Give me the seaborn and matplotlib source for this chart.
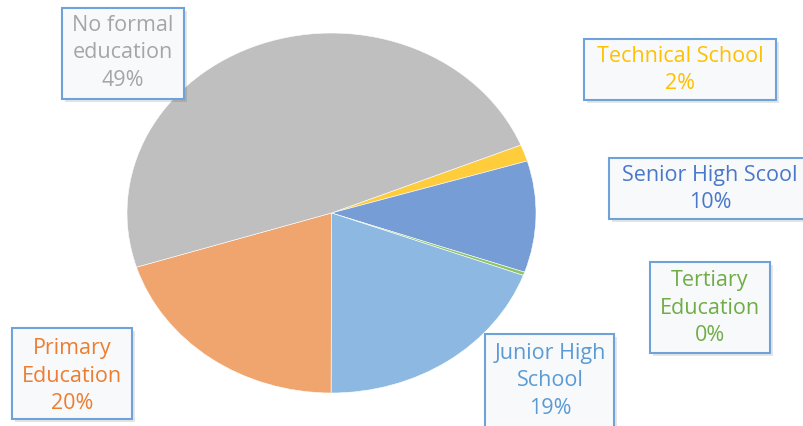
import matplotlib
matplotlib.use("Agg")
import matplotlib.pyplot as plt
from matplotlib.patches import Rectangle
import seaborn as sns

sns.set_theme(style="white")
plt.rcParams['font.family'] = ['Open Sans', 'DejaVu Sans']

# Data (clockwise order starting at Technical School)
categories = ["Technical School", "Senior High Scool", "Tertiary Education",
              "Junior High School", "Primary Education", "No formal education"]
values = [1.5, 10.0, 0.3, 19.4, 20.1, 48.7]
pct_labels = ["2%", "10%", "0%", "19%", "20%", "49%"]
label_text = ["Technical School", "Senior High Scool", "Tertiary\nEducation",
              "Junior High\nSchool", "Primary\nEducation", "No formal\neducation"]

slice_colors = ["#ffcd3c", "#779dd6", "#8cc46a", "#8cb8e2", "#f0a46e", "#bfbfbf"]
text_colors = ["#ffc000", "#4a78c8", "#70ad47", "#5b9bd5", "#ed7d31", "#a6a6a6"]

W, H = 804, 426
fig = plt.figure(figsize=(W / 100, H / 100), dpi=100)
fig.patch.set_facecolor("white")

# pie ellipse box in pixels
px0, px1, py0, py1 = 127, 536, 33, 393
ax = fig.add_axes([px0 / W, (H - py1) / H, (px1 - px0) / W, (py1 - py0) / H])
ax.pie(values, colors=slice_colors, startangle=22.2, counterclock=False,
       wedgeprops=dict(linewidth=0.4, edgecolor="white"))
ax.set_aspect("auto")
ax.set_xlim(-1, 1)
ax.set_ylim(-1, 1)
ax.axis("off")

# label boxes (pixel rectangles) and text centers
boxes = [(584, 39, 776, 100), (609, 158, 830, 219), (650, 262, 770, 353),
         (485, 334, 614, 450), (12, 328, 132, 419), (62, 8, 184, 99)]
centers = [(680, 70), (710, 189), (710, 308), (550, 381), (72, 376), (123, 53)]

for i in range(len(categories)):
    x0, y0, x1, y1 = boxes[i]
    # shadow
    fig.patches.append(Rectangle(((x0 + 3) / W, (H - y1 - 3) / H), (x1 - x0) / W, (y1 - y0) / H,
                                 transform=fig.transFigure, facecolor="#000000", alpha=0.10,
                                 edgecolor="none", zorder=5))
    fig.patches.append(Rectangle((x0 / W, (H - y1) / H), (x1 - x0) / W, (y1 - y0) / H,
                                 transform=fig.transFigure, facecolor="#f8f9fb",
                                 edgecolor="#6fa3d8", linewidth=1.5, zorder=6))
    cx, cy = centers[i]
    fig.text(cx / W, (H - cy) / H, label_text[i] + "\n" + pct_labels[i],
             ha="center", va="center", fontsize=15.5, color=text_colors[i],
             linespacing=1.38, zorder=7)

fig.savefig("out.png", dpi=100)
